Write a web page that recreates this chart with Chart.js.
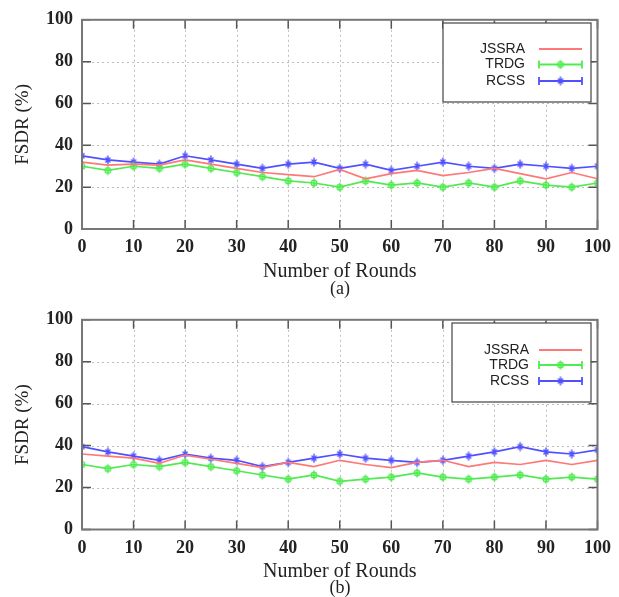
<!DOCTYPE html>
<html>
<head>
<meta charset="utf-8">
<script src="https://cdn.jsdelivr.net/npm/chart.js@4.4.1/dist/chart.umd.min.js"></script>
<style>
  html, body { margin: 0; padding: 0; background: #fff; }
  body { width: 619px; height: 597px; position: relative; overflow: hidden; }
  .panel { position: absolute; left: 0; width: 619px; }
  .caption { position: absolute; left: 240px; width: 200px; text-align: center;
             font: 18px/18px "Liberation Serif", serif; color: #222; }
</style>
</head>
<body>
<div class="panel" style="top:0;height:300px"><canvas id="chartA" width="619" height="300"></canvas></div>
<div class="panel" style="top:300px;height:297px"><canvas id="chartB" width="619" height="297"></canvas></div>
<div class="caption" style="top:279px">(a)</div>
<div class="caption" style="top:578px">(b)</div>
<script>
// ===== Data =====
const rounds = [0, 5, 10, 15, 20, 25, 30, 35, 40, 45, 50, 55, 60, 65, 70, 75, 80, 85, 90, 95, 100];
const xTicks = [0, 10, 20, 30, 40, 50, 60, 70, 80, 90, 100];
const yTicks = [0, 20, 40, 60, 80, 100];
const seriesNames = ['JSSRA', 'TRDG', 'RCSS'];

// panel (a)
const jssraA = [32, 30.5, 31, 30.5, 33, 31, 29, 27, 26, 25, 28.5, 24, 26.5, 28, 25.5, 27, 29, 26.5, 24, 27, 24];
const trdgA  = [30, 28, 30, 29, 31, 29, 27, 25, 23, 22, 20, 23, 21, 22, 20, 22, 20, 23, 21, 20, 22];
const rcssA  = [35, 33, 32, 31, 35, 33, 31, 29, 31, 32, 29, 31, 28, 30, 32, 30, 29, 31, 30, 29, 30];

// panel (b)
const jssraB = [36, 35, 34, 31.5, 35.5, 33.5, 31.5, 29.5, 32, 30, 33, 31, 29.5, 32, 33, 30, 32, 31, 33, 31, 33];
const trdgB  = [31, 29, 31, 30, 32, 30, 28, 26, 24, 26, 23, 24, 25, 27, 25, 24, 25, 26, 24, 25, 24];
const rcssB  = [39.5, 37, 35, 33, 36, 34, 33, 30, 32, 34, 36, 34, 33, 32, 33, 35, 37, 39.5, 37, 36, 38];

const RED = 'rgb(255, 120, 120)';
const GREEN = 'rgb(80, 235, 80)';
const BLUE = 'rgb(80, 80, 255)';
const SERIF = '"Liberation Serif", "Times New Roman", serif';

// ===== Marker images =====
function makeMarker(kind, color) {
    const c = document.createElement('canvas');
    c.width = 12; c.height = 12;
    const g = c.getContext('2d');
    g.strokeStyle = color;
    g.lineWidth = 1.4;
    g.beginPath();
    if (kind === 'circle') {
        g.arc(6, 6, 2.8, 0, Math.PI * 2);
    } else {
        g.moveTo(3.5, 3.5); g.lineTo(8.5, 8.5);
        g.moveTo(8.5, 3.5); g.lineTo(3.5, 8.5);
    }
    g.moveTo(6, 1.5); g.lineTo(6, 10.5);
    g.stroke();
    return c;
}
const greenMarker = makeMarker('circle', GREEN);
const blueMarker = makeMarker('x', BLUE);

function toPoints(values) {
    return rounds.map((r, i) => ({ x: r, y: values[i] }));
}

// ===== Frame, dotted grid, inward ticks and legend =====
const gnuFrame = {
    id: 'gnuFrame',
    beforeDatasetsDraw(chart) {
        const { ctx, chartArea: a, scales } = chart;
        ctx.save();
        ctx.strokeStyle = '#bdbdbd';
        ctx.lineWidth = 1;
        ctx.setLineDash([2, 3]);
        ctx.beginPath();
        xTicks.slice(1, -1).forEach(v => {
            const x = Math.round(scales.x.getPixelForValue(v)) + 0.5;
            ctx.moveTo(x, a.top); ctx.lineTo(x, a.bottom);
        });
        yTicks.slice(1, -1).forEach(v => {
            const y = Math.round(scales.y.getPixelForValue(v)) + 0.5;
            ctx.moveTo(a.left, y); ctx.lineTo(a.right, y);
        });
        ctx.stroke();
        ctx.restore();
    },
    afterDatasetsDraw(chart) {
        const { ctx, chartArea: a, scales } = chart;
        const len = 9;
        ctx.save();
        ctx.strokeStyle = '#555';
        ctx.lineWidth = 1.5;
        ctx.beginPath();
        xTicks.forEach(v => {
            const x = scales.x.getPixelForValue(v);
            ctx.moveTo(x, a.bottom); ctx.lineTo(x, a.bottom - len);
            ctx.moveTo(x, a.top); ctx.lineTo(x, a.top + len);
        });
        yTicks.forEach(v => {
            const y = scales.y.getPixelForValue(v);
            ctx.moveTo(a.left, y); ctx.lineTo(a.left + len, y);
            ctx.moveTo(a.right, y); ctx.lineTo(a.right - len, y);
        });
        ctx.stroke();
        ctx.strokeStyle = '#777';
        ctx.lineWidth = 2;
        ctx.strokeRect(a.left, a.top, a.right - a.left, a.bottom - a.top);
        ctx.restore();
    },
    afterDraw(chart, args, opts) {
        const { ctx } = chart;
        const b = opts.box;
        ctx.save();
        ctx.fillStyle = '#fff';
        ctx.fillRect(b.x, b.y, b.w, b.h);
        ctx.strokeStyle = '#444';
        ctx.lineWidth = 1.2;
        ctx.strokeRect(b.x, b.y, b.w, b.h);
        ctx.font = '14px "Liberation Sans", Arial, sans-serif';
        ctx.fillStyle = '#222';
        ctx.textAlign = 'right';
        ctx.textBaseline = 'middle';
        chart.data.datasets.forEach((ds, i) => {
            const y = opts.rows[i];
            ctx.fillText(ds.label, opts.textRight, y);
            ctx.strokeStyle = ds.borderColor;
            ctx.lineWidth = 1.8;
            ctx.beginPath();
            ctx.moveTo(opts.lineX0, y); ctx.lineTo(opts.lineX1, y);
            if (ds.pointStyle) {
                ctx.moveTo(opts.lineX0, y - 4); ctx.lineTo(opts.lineX0, y + 4);
                ctx.moveTo(opts.lineX1, y - 4); ctx.lineTo(opts.lineX1, y + 4);
            }
            ctx.stroke();
            if (ds.pointStyle) {
                const mx = (opts.lineX0 + opts.lineX1) / 2;
                ctx.drawImage(ds.pointStyle, mx - 6, y - 6);
            }
        });
        ctx.restore();
    }
};

// ===== Chart builder =====
function buildChart(id, jssra, trdg, rcss, lay) {
    const ctx = document.getElementById(id);
    const datasets = [
        { label: seriesNames[0], data: toPoints(jssra), borderColor: RED, pointRadius: 0, pointStyle: false },
        { label: seriesNames[1], data: toPoints(trdg), borderColor: GREEN, pointStyle: greenMarker },
        { label: seriesNames[2], data: toPoints(rcss), borderColor: BLUE, pointStyle: blueMarker }
    ];
    datasets.forEach(d => { d.borderWidth = 1.7; d.tension = 0; d.fill = false; });

    return new Chart(ctx, {
        type: 'line',
        data: { datasets: datasets },
        options: {
            responsive: false,
            animation: false,
            events: [],
            layout: { padding: { top: lay.top, right: 20, left: 0, bottom: 0 } },
            plugins: {
                legend: { display: false },
                tooltip: { enabled: false },
                gnuFrame: lay.legend
            },
            scales: {
                x: {
                    type: 'linear',
                    min: 0,
                    max: 100,
                    afterBuildTicks: s => { s.ticks = xTicks.map(v => ({ value: v })); },
                    afterFit: s => { s.height = lay.xHeight; },
                    grid: { display: false, drawTicks: false },
                    border: { display: false },
                    ticks: { color: '#222', padding: 8, maxRotation: 0,
                             font: { family: SERIF, size: 18, weight: 'bold' } },
                    title: { display: true, text: 'Number of Rounds', color: '#222',
                             padding: { top: 0, bottom: lay.titlePad },
                             font: { family: SERIF, size: 20, lineHeight: 1.2 } }
                },
                y: {
                    min: 0,
                    max: 100,
                    afterBuildTicks: s => { s.ticks = yTicks.map(v => ({ value: v })); },
                    afterFit: s => { s.width = 82; },
                    grid: { display: false, drawTicks: false },
                    border: { display: false },
                    ticks: { color: '#222', padding: 9,
                             font: { family: SERIF, size: 18, weight: 'bold' } },
                    title: { display: true, text: 'FSDR (%)', color: '#222',
                             padding: { top: 12, bottom: 0 },
                             font: { family: SERIF, size: 19, lineHeight: 1.2 } }
                }
            }
        },
        plugins: [gnuFrame]
    });
}

document.addEventListener('DOMContentLoaded', function() {
    buildChart('chartA', jssraA, trdgA, rcssA, {
        top: 18, xHeight: 71, titlePad: 16,
        legend: { box: { x: 443, y: 23, w: 148, h: 79 }, textRight: 525,
                  rows: [49, 64.5, 81], lineX0: 539, lineX1: 582 }
    });
    buildChart('chartB', jssraB, trdgB, rcssB, {
        top: 19, xHeight: 67.5, titlePad: 13,
        legend: { box: { x: 452, y: 23, w: 139, h: 79 }, textRight: 529,
                  rows: [50, 65, 81], lineX0: 539, lineX1: 582 }
    });
});
</script>
</body>
</html>
